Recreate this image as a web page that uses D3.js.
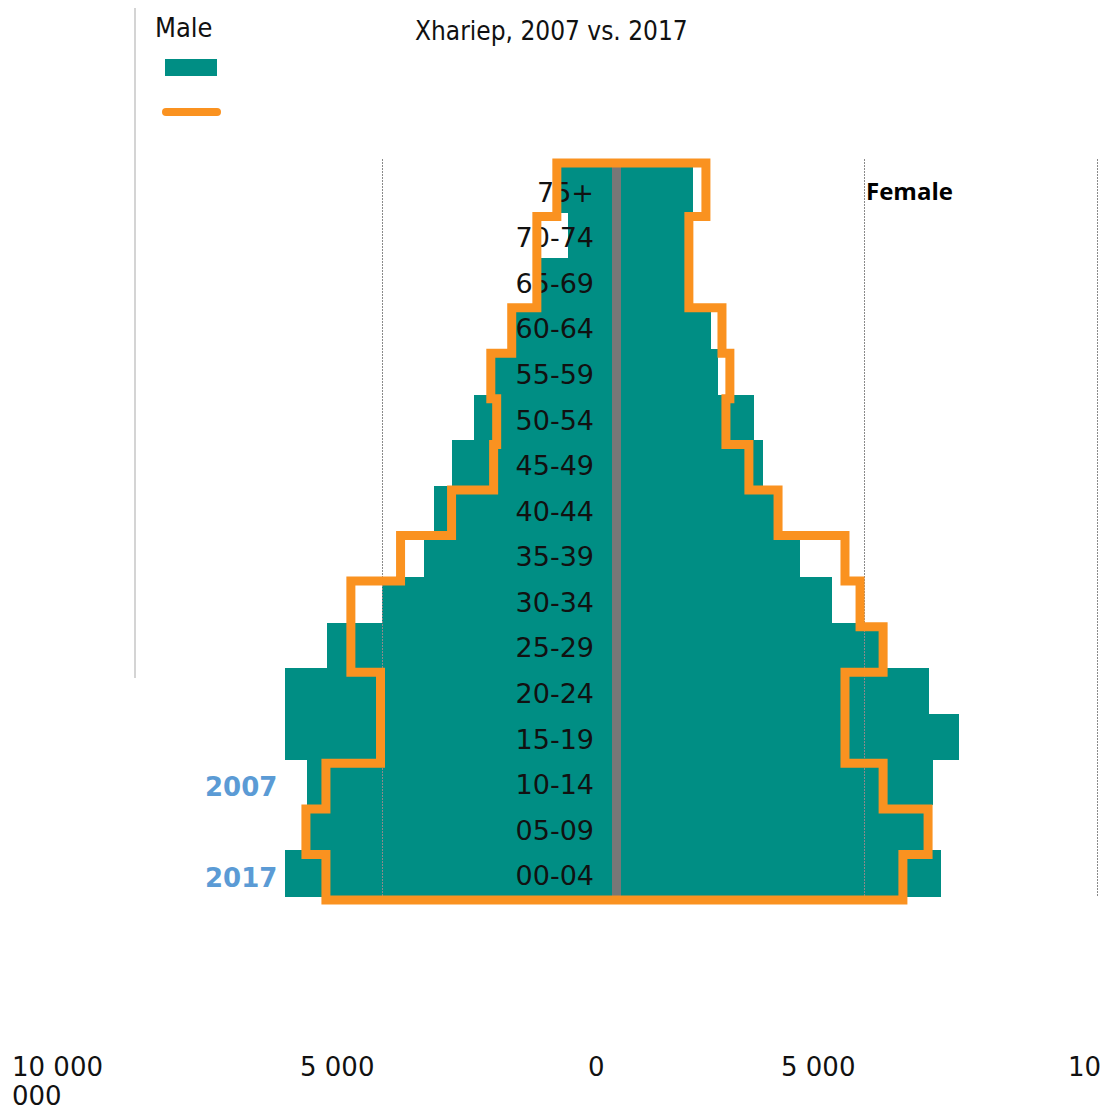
<!DOCTYPE html>
<html>
<head>
<meta charset="utf-8">
<script src="https://cdn.jsdelivr.net/npm/d3@7"></script>
<style>
  html, body { margin: 0; padding: 0; background: #fff; overflow: hidden; }
  svg { display: block; }
</style>
</head>
<body>
<div id="chart"></div>
<script>
const ageGroups = ["75+", "70-74", "65-69", "60-64", "55-59", "50-54", "45-49", "40-44",
  "35-39", "30-34", "25-29", "20-24", "15-19", "10-14", "05-09", "00-04"];

// 2007 (teal bars)
const male2007 = [1190, 1045, 1685, 2325, 2770, 3050, 3520, 3900, 4115, 5000, 6115, 6965, 6965, 6520, 6480, 6965];
const female2007 = [1540, 1435, 1435, 1905, 2045, 2775, 2955, 3220, 3705, 4350, 5320, 6395, 7040, 6480, 6375, 6650];

// 2017 (orange outline)
const male2017 = [1280, 1705, 1705, 2240, 2685, 2560, 2625, 3520, 4605, 5630, 5630, 5030, 5030, 6135, 6540, 6135];
const female2017 = [1800, 1455, 1455, 2125, 2285, 2205, 2670, 3260, 4615, 4920, 5410, 4615, 4615, 5410, 6375, 5835];

const tickValues = [-10000, -5000, 0, 5000, 10000];
const tickLabels = [["10 000", "000"], ["5 000"], ["0"], ["5 000"], ["10"]];
const gridValues = [-5000, 5000, 10000];

const teal = "#008e84";
const orange = "#fa9220";
const blue = "#5b9bd5";

const width = 1105, height = 1115;

const svg = d3.select("#chart")
    .append("svg")
    .attr("width", width)
    .attr("height", height);

const x = d3.scaleLinear()
    .domain(tickValues)
    .range([135, 382, 617, 864, 1097]);

// where the tick labels sit (they are not centred on the gridlines)
const labelX = d3.scaleLinear()
    .domain(tickValues)
    .range([12, 300, 588, 781, 1068]);

const y = d3.scaleBand()
    .domain(ageGroups)
    .range([167, 896])
    .padding(0);

const bw = y.bandwidth();

// light frame line on the left
svg.append("line")
    .attr("x1", x(-10000)).attr("x2", x(-10000))
    .attr("y1", 8).attr("y2", 678)
    .attr("stroke", "#d4d4d4")
    .attr("stroke-width", 2);

// 2007 bars
svg.append("g")
    .selectAll("rect")
    .data(ageGroups)
    .join("rect")
    .attr("x", (d, i) => x(-male2007[i]))
    .attr("width", (d, i) => x(0) - x(-male2007[i]))
    .attr("y", d => y(d))
    .attr("height", bw + 0.5)
    .attr("fill", teal)
    .attr("shape-rendering", "crispEdges");

svg.append("g")
    .selectAll("rect")
    .data(ageGroups)
    .join("rect")
    .attr("x", x(0))
    .attr("width", (d, i) => x(female2007[i]) - x(0))
    .attr("y", d => y(d))
    .attr("height", bw + 0.5)
    .attr("fill", teal)
    .attr("shape-rendering", "crispEdges");

// gridlines
svg.append("g")
    .selectAll("line")
    .data(gridValues)
    .join("line")
    .attr("x1", d => x(d)).attr("x2", d => x(d))
    .attr("y1", 159).attr("y2", 896)
    .attr("stroke", "#8a8a8a")
    .attr("stroke-width", 1)
    .attr("stroke-dasharray", "2,1")
    .attr("shape-rendering", "crispEdges");

// grey centre strip
svg.append("rect")
    .attr("x", x(0) - 5)
    .attr("width", 9)
    .attr("y", y.range()[0])
    .attr("height", y.range()[1] - y.range()[0])
    .attr("fill", "#777777");

// age labels
svg.append("g")
    .selectAll("text")
    .data(ageGroups)
    .join("text")
    .attr("x", 594)
    .attr("y", d => y(d) + bw / 2 + 12)
    .attr("text-anchor", "end")
    .style("font-family", "DejaVu Sans")
    .style("font-size", "27px")
    .attr("fill", "#111")
    .text(d => d);

// 2017 outline: up the male side, across the top, down the female side
const off = 4;
const pts = [];
for (let i = ageGroups.length - 1; i >= 0; i--) {
    const top = i === 0 ? y(ageGroups[i]) - off : y(ageGroups[i]) + off;
    const bottom = y(ageGroups[i]) + bw + off;
    pts.push([x(-male2017[i]), bottom], [x(-male2017[i]), top]);
}
for (let i = 0; i < ageGroups.length; i++) {
    const top = i === 0 ? y(ageGroups[i]) - off : y(ageGroups[i]) + off;
    const bottom = y(ageGroups[i]) + bw + off;
    pts.push([x(female2017[i]), top], [x(female2017[i]), bottom]);
}

svg.append("path")
    .attr("d", d3.line().curve(d3.curveLinearClosed)(pts))
    .attr("fill", "none")
    .attr("stroke", orange)
    .attr("stroke-width", 9)
    .attr("stroke-linejoin", "miter");

// title and legend
svg.append("text")
    .attr("x", 415).attr("y", 40)
    .style("font-family", "DejaVu Sans Condensed")
    .style("font-size", "26px")
    .attr("fill", "#111")
    .text("Xhariep, 2007 vs. 2017");

svg.append("text")
    .attr("x", 155).attr("y", 37)
    .style("font-family", "DejaVu Sans Condensed")
    .style("font-size", "27px")
    .attr("fill", "#111")
    .text("Male");

svg.append("rect")
    .attr("x", 165).attr("y", 59)
    .attr("width", 52).attr("height", 17)
    .attr("fill", teal);

svg.append("line")
    .attr("x1", 166).attr("x2", 217)
    .attr("y1", 112).attr("y2", 112)
    .attr("stroke", orange)
    .attr("stroke-width", 8)
    .attr("stroke-linecap", "round");

svg.append("text")
    .attr("x", 866).attr("y", 200)
    .style("font-family", "Open Sans")
    .style("font-weight", "bold")
    .style("font-size", "24px")
    .attr("fill", "#000")
    .text("Female");

// year tags
[["2007", "10-14"], ["2017", "00-04"]].forEach(([yr, grp]) => {
    svg.append("text")
        .attr("x", 205)
        .attr("y", y(grp) + bw / 2 + 14)
        .style("font-family", "DejaVu Sans")
        .style("font-weight", "bold")
        .style("font-size", "26px")
        .attr("fill", blue)
        .text(yr);
});

// bottom axis labels
const axisLabels = svg.append("g")
    .selectAll("text")
    .data(tickValues)
    .join("text")
    .attr("x", d => labelX(d))
    .attr("y", 1076)
    .style("font-family", "DejaVu Sans")
    .style("font-size", "26px")
    .attr("fill", "#111");

axisLabels.selectAll("tspan")
    .data((d, i) => tickLabels[i].map(t => ({ t, x: labelX(d) })))
    .join("tspan")
    .attr("x", d => d.x)
    .attr("dy", (d, j) => j === 0 ? 0 : 29)
    .text(d => d.t);
</script>
</body>
</html>
